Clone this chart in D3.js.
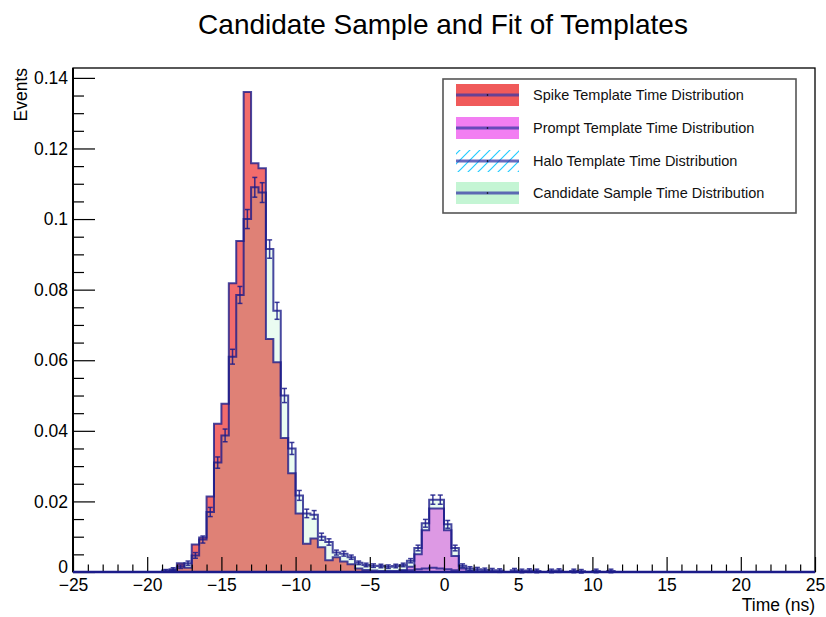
<!DOCTYPE html>
<html>
<head>
<meta charset="utf-8">
<script src="https://cdn.jsdelivr.net/npm/d3@7"></script>
<style>
  html, body { margin: 0; padding: 0; background: #fff; }
  svg { display: block; font-family: "Liberation Sans", Arial, Helvetica, sans-serif; }
</style>
</head>
<body>
<svg id="chart" width="826" height="617"></svg>
<script>
// ---------------- DATA ----------------
const title = "Candidate Sample and Fit of Templates";
const xTitle = "Time (ns)";
const yTitle = "Events";
const binLow = -25;
const binWidth = 0.5;

const legendLabels = [
  "Spike Template Time Distribution",
  "Prompt Template Time Distribution",
  "Halo Template Time Distribution",
  "Candidate Sample Time Distribution"
];

// 100 bins, -25 .. 25 ns
const candidateValues = [
  0,0,0,0,0,0,0,0,0,0,
  0,0,0.0004,0.0008,0.0015,0.0025,0.0047,0.0092,0.017,0.031,
  0.0387,0.061,0.0785,0.100,0.109,0.1075,0.0915,0.074,0.050,0.035,
  0.0217,0.0166,0.0162,0.0100,0.0085,0.0055,0.0052,0.0042,0.0026,0.0020,
  0.0018,0.0017,0.0015,0.0017,0.0020,0.0032,0.0068,0.0138,0.0205,0.0205,
  0.0135,0.0068,0.0018,0.0010,0.0008,0.0006,0.0005,0.0004,0,0.0005,
  0.0003,0.0004,0.0003,0,0.0003,0.0004,0,0.0003,0.0002,0,
  0.0003,0,0.0003,0,0,0,0,0,0,0,
  0,0,0,0,0,0,0,0,0,0,
  0,0,0,0,0,0,0,0,0,0
];
const candidateErrors = [
  0,0,0,0,0,0,0,0,0,0,
  0,0,0.0003,0.0004,0.0005,0.0006,0.0008,0.0010,0.0013,0.0016,
  0.0018,0.0021,0.0024,0.0027,0.0028,0.0028,0.0026,0.0024,0.0020,0.0017,
  0.0014,0.0012,0.0012,0.0010,0.0009,0.0007,0.0007,0.0006,0.0005,0.0005,
  0.0005,0.0005,0.0005,0.0005,0.0005,0.0006,0.0008,0.0011,0.0013,0.0013,
  0.0011,0.0008,0.0005,0.0005,0.0005,0.0005,0.0005,0.0005,0,0.0005,
  0.0005,0.0005,0.0005,0,0.0005,0.0005,0,0.0005,0.0005,0,
  0.0005,0,0.0005,0,0,0,0,0,0,0,
  0,0,0,0,0,0,0,0,0,0,
  0,0,0,0,0,0,0,0,0,0
];
const spikeValues = [
  0,0,0,0,0,0,0,0,0,0,
  0,0,0,0.0005,0.0025,0.0012,0.0078,0.0098,0.0214,0.042,
  0.0477,0.0818,0.0938,0.136,0.1158,0.1144,0.066,0.0594,0.038,0.028,
  0.0166,0.008,0.0095,0.007,0.0033,0.0042,0.003,0.0022,0.001,0.0006,
  0.0004,0.0003,0.0003,0.0003,0.0004,0.0005,0.0008,0.001,0.0012,0.001,
  0.0008,0.0005,0,0,0,0,0,0,0,0,
  0,0,0,0,0,0,0,0,0,0,
  0,0,0,0,0,0,0,0,0,0,
  0,0,0,0,0,0,0,0,0,0,
  0,0,0,0,0,0,0,0,0,0
];
const promptValues = [
  0,0,0,0,0,0,0,0,0,0,
  0,0,0,0,0,0,0,0,0,0,
  0,0,0,0,0,0,0,0,0,0,
  0,0,0,0,0,0,0,0,0,0,
  0,0,0,0,0.0005,0.0015,0.005,0.0118,0.018,0.018,
  0.0118,0.0045,0.001,0.0003,0,0,0,0,0,0,
  0,0,0,0,0,0,0,0,0,0,
  0,0,0,0,0,0,0,0,0,0,
  0,0,0,0,0,0,0,0,0,0,
  0,0,0,0,0,0,0,0,0,0
];
const haloValues = new Array(100).fill(0);

const xMajorTicks = [-25,-20,-15,-10,-5,0,5,10,15,20,25];
const yMajorTicks = [0,0.02,0.04,0.06,0.08,0.1,0.12,0.14];
const yMax = 0.1428;

// ---------------- LAYOUT ----------------
const svg = d3.select("#chart");
const L = 73, R = 815, T = 68, B = 572;
const x = d3.scaleLinear().domain([-25, 25]).range([L, R]);
const y = d3.scaleLinear().domain([0, yMax]).range([B, T]);
const navy = "#1c1c8a";

const defs = svg.append("defs");
(function(){
  const p = defs.append("pattern").attr("id","pHalo").attr("patternUnits","userSpaceOnUse").attr("width",10).attr("height",10);
  p.append("path").attr("d","M0,10L10,0 M-5,5L5,-5 M5,15L15,5").attr("stroke","#22ccff").attr("stroke-width",1.2);
})();

const fillSpike = "#f26c6c";
const fillPrompt = "#f088f0";
const fillHalo = "url(#pHalo)";
const fillCand = "rgba(130,238,170,0.17)";

function pts(vals) {
  const a = [[binLow, 0]];
  vals.forEach((v, i) => { const lo = binLow + i * binWidth; a.push([lo, v]); a.push([lo + binWidth, v]); });
  a.push([binLow + vals.length * binWidth, 0]);
  return a;
}
const area = d3.area().x(d => x(d[0])).y0(y(0)).y1(d => y(d[1]));
const line = d3.line().x(d => x(d[0])).y(d => y(d[1]));

const plot = svg.append("g");
const series = [
  { vals: spikeValues, fill: fillSpike },
  { vals: promptValues, fill: fillPrompt },
  { vals: haloValues, fill: fillHalo },
  { vals: candidateValues, fill: fillCand }
];
series.forEach(s => plot.append("path").attr("d", area(pts(s.vals))).attr("fill", s.fill));
[spikeValues, promptValues, haloValues, candidateValues].forEach(v =>
  plot.append("path").attr("d", line(pts(v))).attr("fill", "none")
    .attr("stroke", navy).attr("stroke-width", 2).attr("stroke-opacity", 0.8).attr("stroke-linejoin","miter"));

// error bars for candidate
const eb = plot.append("g").attr("stroke", navy).attr("stroke-width", 1.5).attr("stroke-opacity", 0.85);
candidateValues.forEach((v, i) => {
  if (v <= 0) return;
  const cx = x(binLow + (i + 0.5) * binWidth);
  const e = candidateErrors[i];
  eb.append("line").attr("x1", cx).attr("x2", cx).attr("y1", y(v - e)).attr("y2", y(v + e));
  eb.append("line").attr("x1", cx - 2.5).attr("x2", cx + 2.5).attr("y1", y(v - e)).attr("y2", y(v - e));
  eb.append("line").attr("x1", cx - 2.5).attr("x2", cx + 2.5).attr("y1", y(v + e)).attr("y2", y(v + e));
});

// axes
const fmtY = d => String(+d.toFixed(2));
const yMinor = d3.range(0, yMax, 0.005).filter(v => Math.abs(v / 0.02 - Math.round(v / 0.02)) > 1e-6);
const xMinor = d3.range(-25, 25.001, 1).filter(v => v % 5 !== 0);

const gx = svg.append("g").attr("transform", `translate(0,${B})`)
  .call(d3.axisBottom(x).tickValues(xMajorTicks).tickSize(-15).tickPadding(7));
const gxm = svg.append("g").attr("transform", `translate(0,${B})`)
  .call(d3.axisBottom(x).tickValues(xMinor).tickSize(-7.5).tickFormat(""));
const gy = svg.append("g").attr("transform", `translate(${L},0)`)
  .call(d3.axisLeft(y).tickValues(yMajorTicks).tickSize(-22).tickPadding(5).tickFormat(fmtY));
const gym = svg.append("g").attr("transform", `translate(${L},0)`)
  .call(d3.axisLeft(y).tickValues(yMinor).tickSize(-11).tickFormat(""));
[gx, gxm, gy, gym].forEach(g => {
  g.select(".domain").remove();
  g.selectAll("line").attr("stroke", "#000").attr("stroke-width", 1.2);
  g.selectAll("text").attr("font-size", 17.5).attr("fill", "#000")
    .attr("font-family", '"Liberation Sans", Arial, sans-serif');
});
gy.selectAll(".tick").filter(d => d === 0).select("text").attr("dy", "0.05em");

// frame
svg.append("rect").attr("x", L).attr("y", T).attr("width", R - L).attr("height", B - T)
  .attr("fill", "none").attr("stroke", "#000").attr("stroke-width", 1.3);
svg.append("line").attr("x1", L).attr("x2", L).attr("y1", T).attr("y2", B).attr("stroke", "#000").attr("stroke-width", 2);
svg.append("line").attr("x1", L).attr("x2", R).attr("y1", B).attr("y2", B).attr("stroke", navy).attr("stroke-width", 2.5);

// titles
svg.append("text").attr("x", 443).attr("y", 34).attr("text-anchor", "middle")
  .attr("font-size", 28).attr("fill", "#000").text(title);
svg.append("text").attr("x", R).attr("y", 611).attr("text-anchor", "end")
  .attr("font-size", 17.5).attr("fill", "#000").text(xTitle);
svg.append("text").attr("transform", `translate(27,${T}) rotate(-90)`).attr("text-anchor", "end")
  .attr("font-size", 17.5).attr("fill", "#000").text(yTitle);

// legend
const lg = svg.append("g");
lg.append("rect").attr("x", 443).attr("y", 79).attr("width", 353).attr("height", 134)
  .attr("fill", "#fff").attr("stroke", "#555").attr("stroke-width", 1.6);
const legFills = ["#f05a5a", "#f27ef2", fillHalo, "#c4f5d4"];
const rowY = [95, 128, 161, 193];
legendLabels.forEach((lab, i) => {
  const cy = rowY[i];
  lg.append("rect").attr("x", 456).attr("y", cy - 11).attr("width", 63).attr("height", 22).attr("fill", legFills[i]);
  lg.append("line").attr("x1", 456).attr("x2", 519).attr("y1", cy).attr("y2", cy)
    .attr("stroke", "#3a3aa8").attr("stroke-width", 3).attr("stroke-opacity", 0.75);
  lg.append("circle").attr("cx", 487.5).attr("cy", cy).attr("r", 0.8).attr("fill", "#000");
  lg.append("text").attr("x", 533).attr("y", cy + 5).attr("font-size", 14.5).attr("fill", "#111").text(lab);
});
</script>
</body>
</html>
